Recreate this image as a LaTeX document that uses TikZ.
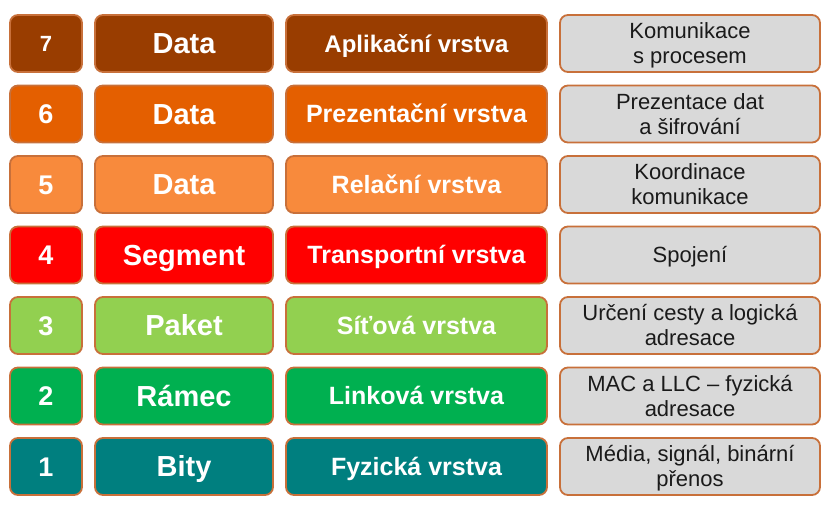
\documentclass[tikz,border=0pt]{standalone}
\usepackage{fontspec}
\setmainfont{Liberation Sans}
\usepackage{tikz}
\usetikzlibrary{positioning}

\definecolor{rim}{HTML}{C8703A}
\definecolor{brown7}{HTML}{993D00}
\definecolor{orange6}{HTML}{E45F00}
\definecolor{orange5}{HTML}{F88A3C}
\definecolor{red4}{HTML}{FF0000}
\definecolor{green3}{HTML}{92D050}
\definecolor{green2}{HTML}{00B050}
\definecolor{teal1}{HTML}{007F7F}
\definecolor{descfill}{HTML}{D9D9D9}
\definecolor{desctext}{HTML}{1A1A1A}

\begin{document}
\begin{tikzpicture}[
        x=1pt, y=-1pt,
        box/.style={draw=rim, line width=1.8pt, rounded corners=8pt,
          inner sep=0pt, outer sep=0pt, minimum height=57pt, text=white,
          text depth=0pt, text height=17.9pt,
          font=\fontsize{25}{28}\selectfont\bfseries},
        numbox/.style={box, minimum width=72pt, text height=19.3pt,
          font=\fontsize{27}{30}\selectfont\bfseries},
        unitbox/.style={box, minimum width=178pt, text height=20.8pt,
          font=\fontsize{29}{32}\selectfont\bfseries},
        layerbox/.style={box, minimum width=261pt},
        descbox/.style={box, fill=descfill, minimum width=260pt, text=desctext,
          align=center, text height=40.8pt, font=\fontsize{22}{25}\selectfont},
        node distance=13pt
      ]
      \useasboundingbox (0,0) rectangle (836,504);
      % layer 7
      \node[numbox, fill=brown7, text height=15.8pt, font=\fontsize{22}{26}\selectfont\bfseries] (n7) at (46,43.5) {7};
      \node[unitbox, fill=brown7] (u7) [right=of n7] {Data};
      \node[layerbox, fill=brown7, text height=17.2pt, font=\fontsize{24}{28}\selectfont\bfseries] (l7) [right=of u7] {Aplikační vrstva};
      \node[descbox] (p7) [right=of l7] {Komunikace\\s procesem};
      % layer 6
      \node[numbox, fill=orange6] (n6) [below=13.5pt of n7] {6};
      \node[unitbox, fill=orange6] (u6) [right=of n6] {Data};
      \node[layerbox, fill=orange6] (l6) [right=of u6] {Prezentační vrstva};
      \node[descbox] (p6) [right=of l6] {Prezentace dat\\a šifrování};
      % layer 5
      \node[numbox, fill=orange5] (n5) [below=13.5pt of n6] {5};
      \node[unitbox, fill=orange5] (u5) [right=of n5] {Data};
      \node[layerbox, fill=orange5] (l5) [right=of u5] {Relační vrstva};
      \node[descbox] (p5) [right=of l5] {Koordinace\\komunikace};
      % layer 4
      \node[numbox, fill=red4] (n4) [below=13.5pt of n5] {4};
      \node[unitbox, fill=red4] (u4) [right=of n4] {Segment};
      \node[layerbox, fill=red4] (l4) [right=of u4] {Transportní vrstva};
      \node[descbox, text height=15.8pt] (p4) [right=of l4] {Spojení};
      % layer 3
      \node[numbox, fill=green3] (n3) [below=13.5pt of n4] {3};
      \node[unitbox, fill=green3] (u3) [right=of n3] {Paket};
      \node[layerbox, fill=green3] (l3) [right=of u3] {Síťová vrstva};
      \node[descbox] (p3) [right=of l3] {Určení cesty a logická\\adresace};
      % layer 2
      \node[numbox, fill=green2] (n2) [below=13.5pt of n3] {2};
      \node[unitbox, fill=green2] (u2) [right=of n2] {Rámec};
      \node[layerbox, fill=green2] (l2) [right=of u2] {Linková vrstva};
      \node[descbox] (p2) [right=of l2] {MAC a LLC – fyzická\\adresace};
      % layer 1
      \node[numbox, fill=teal1] (n1) [below=13.5pt of n2] {1};
      \node[unitbox, fill=teal1] (u1) [right=of n1] {Bity};
      \node[layerbox, fill=teal1] (l1) [right=of u1] {Fyzická vrstva};
      \node[descbox] (p1) [right=of l1] {Média, signál, binární\\přenos};
    \end{tikzpicture}
\end{document}
